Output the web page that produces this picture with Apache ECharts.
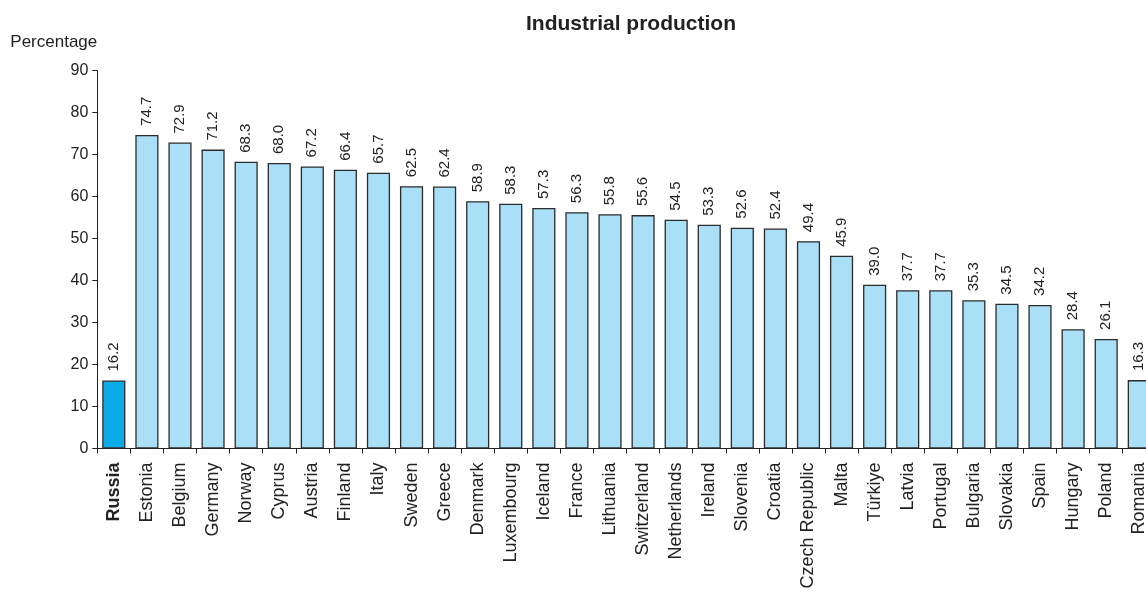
<!DOCTYPE html>
<html>
<head>
<meta charset="utf-8">
<script src="https://cdn.jsdelivr.net/npm/echarts@6/dist/echarts.min.js"></script>
<style>
html,body{margin:0;padding:0;background:#fff;overflow:hidden;}
#wrap{width:1146px;height:593px;overflow:hidden;position:relative;}
#chart{width:1170px;height:593px;}
</style>
</head>
<body>
<div id="wrap"><div id="chart"></div></div>
<script>
const categories = ["Russia","Estonia","Belgium","Germany","Norway","Cyprus","Austria","Finland","Italy","Sweden","Greece","Denmark","Luxembourg","Iceland","France","Lithuania","Switzerland","Netherlands","Ireland","Slovenia","Croatia","Czech Republic","Malta","Türkiye","Latvia","Portugal","Bulgaria","Slovakia","Spain","Hungary","Poland","Romania"];
const values = [16.2,74.7,72.9,71.2,68.3,68.0,67.2,66.4,65.7,62.5,62.4,58.9,58.3,57.3,56.3,55.8,55.6,54.5,53.3,52.6,52.4,49.4,45.9,39.0,37.7,37.7,35.3,34.5,34.2,28.4,26.1,16.3];
const highlight = "Russia";
const yTicks = {min:0, max:90, interval:10};

const FONT = '"Liberation Sans", Arial, sans-serif';
const chart = echarts.init(document.getElementById('chart'), null, {renderer:'canvas'});
chart.setOption({
  animation:false,
  backgroundColor:'#fff',
  title:{
    text:'Industrial production',
    left:626, top:9, textAlign:'center',
    textStyle:{fontFamily:FONT, fontWeight:'bold', fontSize:21, color:'#222'}
  },
  grid:{left:97.3, top:70.7, width:1058.5, height:377.8},
  xAxis:{
    type:'category',
    data:categories,
    axisLine:{lineStyle:{color:'#222', width:1}},
    axisTick:{show:true, length:5, lineStyle:{color:'#222'}, alignWithLabel:false},
    axisLabel:{
      rotate:90, interval:0, margin:14, fontFamily:FONT, fontSize:18, color:'#222',
      formatter:function(v){return v===highlight ? '{b|'+v+'}' : v;},
      rich:{b:{fontFamily:FONT, fontWeight:'bold', fontSize:18, color:'#222'}}
    }
  },
  yAxis:{
    type:'value',
    min:yTicks.min, max:yTicks.max, interval:yTicks.interval,
    name:'Percentage',
    nameLocation:'end',
    nameGap:20,
    nameTextStyle:{fontFamily:FONT, fontSize:17, color:'#222', align:'left', padding:[0,0,0,-87]},
    axisLine:{show:true, lineStyle:{color:'#222', width:1}},
    axisTick:{show:true, length:5, lineStyle:{color:'#222'}},
    axisLabel:{fontFamily:FONT, fontSize:16, color:'#222', margin:9},
    splitLine:{show:false}
  },
  series:[{
    type:'bar',
    data:values.map(function(v,i){
      return {value:v, itemStyle:{color: categories[i]===highlight ? '#0aabe6' : '#aadff8'}};
    }),
    barCategoryGap:'30%',
    itemStyle:{borderColor:'#2b2b2b', borderWidth:1.3},
    label:{
      show:true, position:'top', rotate:90, align:'left', verticalAlign:'middle',
      distance:9, fontFamily:FONT, fontSize:15, color:'#222',
      formatter:function(p){return p.value.toFixed(1);}
    }
  }]
});
</script>
</body>
</html>
